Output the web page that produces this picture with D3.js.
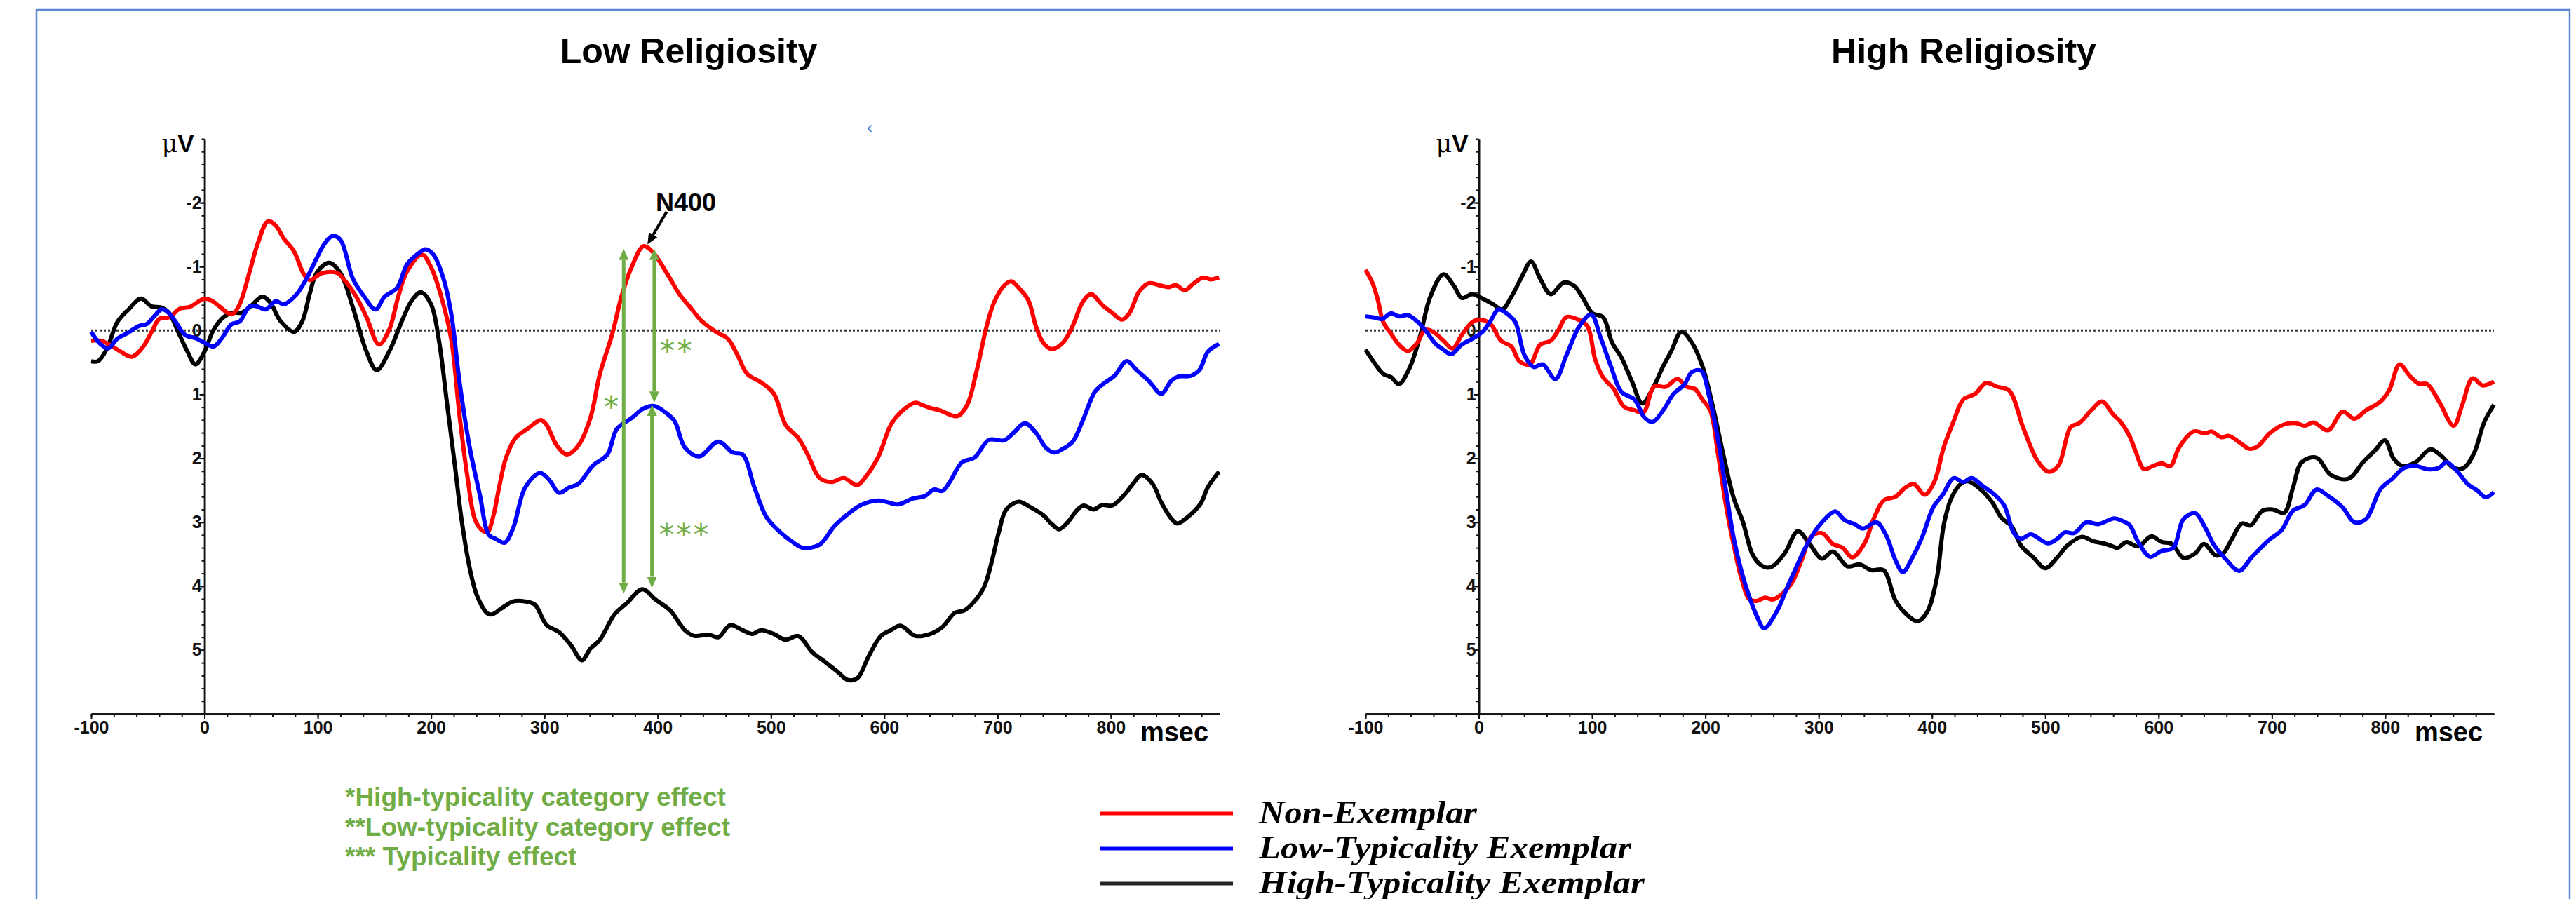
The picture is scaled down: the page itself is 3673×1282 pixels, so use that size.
<!DOCTYPE html>
<html>
<head>
<meta charset="utf-8">
<script src="https://cdnjs.cloudflare.com/ajax/libs/d3/7.8.5/d3.min.js"></script>
<style>
  html, body { margin: 0; padding: 0; background: #fff; }
  svg { display: block; }
</style>
</head>
<body>
<div id="chart"></div>
<script>
// shared axes: time in ms, amplitude in µV (negative up)
const timeDomain = [-100, 896];
const voltDomain = [-3, 6];
const timeTicks = [-100, 0, 100, 200, 300, 400, 500, 600, 700, 800];
const voltTicks = [-2, -1, 0, 1, 2, 3, 4, 5];

// Low religiosity, [ms, µV]
const lowNonExemplar = [
  [-100,0.16],[-91,0.16],[-83,0.23],[-74,0.33],[-64,0.41],[-54,0.25],[-46,0.0],[-40,-0.18],[-31,-0.21],[-22,-0.34],
  [-13,-0.37],[0,-0.5],[6,-0.47],[13,-0.38],[21,-0.27],[25,-0.26],[31,-0.41],[40,-0.93],[47,-1.36],[56,-1.71],
  [63,-1.64],[70,-1.44],[79,-1.24],[88,-0.87],[93,-0.79],[104,-0.9],[117,-0.9],[125,-0.76],[134,-0.53],[143,-0.21],
  [154,0.22],[163,-0.01],[171,-0.53],[179,-0.93],[192,-1.19],[200,-0.99],[209,-0.53],[218,0.16],[225,1.31],[232,2.28],
  [239,2.97],[246,3.14],[250,3.15],[255,2.9],[260,2.46],[266,2.0],[274.6,1.68],[285,1.54],[297,1.4],[302,1.48],
  [311,1.8],[320,1.94],[330,1.8],[340.6,1.37],[349,0.68],[360,0.05],[368,-0.53],[377,-0.99],[387.5,-1.32],[396,-1.22],
  [409,-0.87],[419.5,-0.56],[428,-0.38],[438.7,-0.15],[451.5,0.02],[462,0.13],[470.6,0.39],[479,0.68],[492,0.82],[502.6,0.99],
  [513,1.48],[524,1.68],[532.4,1.94],[543,2.31],[553.7,2.37],[564.4,2.31],[576,2.42],[584,2.28],[594.9,1.97],[605.7,1.48],
  [614.4,1.28],[627.4,1.13],[634,1.17],[640.4,1.21],[649.1,1.25],[664.3,1.34],[673,1.17],[681.7,0.62],[690.4,-0.07],[696.9,-0.44],
  [705.6,-0.7],[712,-0.77],[718.6,-0.67],[727.3,-0.47],[733.8,-0.07],[740.3,0.19],[747.9,0.29],[757.7,0.19],[766.3,-0.07],[775,-0.44],
  [782.6,-0.57],[792.4,-0.4],[801,-0.28],[809.8,-0.17],[816.3,-0.27],[825,-0.61],[833.6,-0.74],[844.5,-0.7],[851,-0.68],[857.5,-0.71],
  [865.1,-0.63],[872.7,-0.73],[881.4,-0.83],[888,-0.8],[895.5,-0.83]
];
const lowLowTypical = [
  [-100,0.02],[-93,0.19],[-85,0.28],[-77,0.13],[-67,0.03],[-58,-0.07],[-51,-0.1],[-45,-0.21],[-38,-0.33],[-33,-0.3],
  [-26,-0.15],[-17,0.07],[-8,0.12],[0,0.19],[8,0.25],[15,0.13],[24,-0.1],[31,-0.14],[40,-0.38],[46,-0.38],
  [54,-0.33],[63,-0.46],[70,-0.41],[81,-0.56],[90,-0.81],[99,-1.13],[106,-1.36],[113,-1.48],[120,-1.42],[131,-0.81],
  [141,-0.53],[151,-0.33],[159,-0.53],[170,-0.67],[179,-1.04],[189,-1.21],[195,-1.27],[202,-1.19],[211,-0.81],[218,-0.24],
  [225,0.79],[234,1.82],[243,2.57],[251,3.2],[257,3.26],[265,3.32],[272.5,3.09],[283,2.46],[296,2.23],[304.4,2.34],
  [313,2.54],[321.5,2.46],[330,2.4],[343,2.11],[355.6,1.94],[364,1.54],[377,1.37],[387.5,1.22],[397,1.18],[406.7,1.28],
  [415,1.42],[424,1.83],[436.5,1.97],[453.6,1.74],[466.4,1.91],[475,1.94],[485.5,2.46],[496,2.92],[509,3.17],[517.5,3.29],
  [528,3.4],[543,3.35],[556,3.06],[566,2.9],[579.7,2.73],[594.9,2.66],[612.2,2.72],[625.2,2.63],[636.1,2.59],[643.7,2.49],
  [651.3,2.51],[657.8,2.37],[668.7,2.06],[679.5,1.99],[692.5,1.71],[705.6,1.72],[714.2,1.6],[724,1.45],[733.8,1.6],[742.5,1.83],
  [750,1.91],[757.7,1.85],[766.3,1.74],[775,1.42],[785.9,0.96],[794.5,0.82],[803.2,0.71],[814,0.48],[822.8,0.62],[833.6,0.79],
  [844.5,0.99],[853.2,0.79],[859.7,0.72],[870.5,0.71],[878.1,0.62],[885.7,0.33],[895.5,0.21]
];
const lowHighTypical = [
  [-100,0.48],[-94,0.48],[-86,0.28],[-77,-0.13],[-67,-0.33],[-56,-0.5],[-47,-0.38],[-38,-0.36],[-31,-0.27],[-24,-0.01],
  [-15,0.33],[-8,0.53],[0,0.33],[8,-0.01],[17,-0.21],[25,-0.28],[33,-0.28],[42,-0.4],[51,-0.53],[58,-0.44],
  [67,-0.15],[79,0.02],[86,-0.13],[93,-0.58],[99,-0.9],[110,-1.06],[120,-0.9],[131,-0.36],[143,0.33],[152,0.62],
  [163,0.33],[175,-0.18],[183,-0.47],[191,-0.6],[200,-0.41],[207,0.16],[214,1.13],[221,2.11],[227,2.97],[234,3.71],
  [241,4.17],[250,4.43],[254.3,4.44],[262,4.35],[272.5,4.24],[283,4.24],[291.6,4.29],[302,4.61],[313,4.72],[323.6,4.93],
  [333.2,5.16],[340.6,4.98],[349,4.84],[362,4.44],[372.6,4.27],[386.5,4.05],[398,4.21],[411,4.38],[424,4.69],[432.3,4.78],
  [445,4.76],[453.6,4.8],[464,4.61],[475,4.69],[483.4,4.75],[491,4.69],[502.6,4.75],[513,4.84],[524,4.78],[536.7,5.04],
  [547.3,5.18],[558,5.33],[568,5.47],[576.4,5.44],[586.2,5.1],[597,4.78],[605.7,4.69],[614.4,4.62],[627.4,4.78],[640.4,4.75],
  [651.3,4.64],[662.2,4.42],[670.8,4.38],[679.5,4.24],[688.2,4.01],[694.7,3.63],[701.2,3.15],[707.7,2.8],[718.6,2.68],[729.4,2.77],
  [740.3,2.89],[747.9,3.03],[754.4,3.11],[762,3.0],[770.7,2.8],[776.1,2.74],[784.8,2.8],[792.4,2.73],[801,2.74],[812,2.57],
  [819.5,2.4],[827.1,2.26],[836.9,2.4],[844.5,2.69],[853.2,2.94],[858.6,3.02],[868.4,2.91],[879.2,2.71],[885.7,2.45],[895.5,2.21]
];

// High religiosity, [ms, µV]
const highNonExemplar = [
  [-100,-0.95],[-93.5,-0.73],[-89,-0.47],[-84.3,-0.13],[-77.4,0.05],[-70.5,0.22],[-62.4,0.32],[-54.3,0.19],[-47.4,-0.01],[-40.4,0.02],
  [-31.2,0.16],[-23.1,0.28],[-15,0.07],[-5.8,-0.13],[1.1,-0.17],[10.4,-0.1],[19.6,0.16],[28.8,0.25],[35.8,0.48],[45,0.53],
  [54.2,0.22],[63.5,0.16],[70.4,-0.01],[77.3,-0.21],[86.6,-0.18],[95.8,-0.07],[102.7,0.45],[109.6,0.73],[118.9,0.91],[128.1,1.19],
  [137.4,1.25],[145.4,1.28],[154.7,0.88],[165,0.88],[175.4,0.76],[183.5,0.88],[190.5,0.91],[197.4,1.08],[204.3,1.25],[211.2,1.94],
  [218.2,2.74],[225.1,3.37],[232,3.89],[239,4.21],[245.9,4.23],[252.8,4.18],[259.2,4.21],[267.8,4.12],[276.3,3.95],[284.8,3.6],
  [293.3,3.23],[302.9,3.17],[312.5,3.34],[321,3.4],[329.6,3.55],[340.2,3.34],[348.7,2.94],[357.3,2.66],[367.9,2.6],[376.4,2.46],
  [383.9,2.4],[393.5,2.57],[402,2.37],[410.5,1.82],[419.1,1.42],[427.6,1.08],[438.2,0.99],[447.8,0.82],[457.4,0.88],[468.1,0.94],
  [480.9,1.54],[493.6,2.05],[503.2,2.21],[511.7,2.11],[522.4,1.51],[529.9,1.45],[540.5,1.25],[550.1,1.11],[559.7,1.31],[566,1.42],
  [574.3,1.65],[579.5,1.88],[587.2,2.17],[594.9,2.12],[602.7,2.08],[610.4,2.12],[618.1,1.83],[631,1.58],[641.3,1.61],[646.5,1.58],
  [655.5,1.67],[662,1.65],[672.2,1.76],[680,1.85],[687.7,1.81],[698,1.61],[710.9,1.47],[721.2,1.45],[729,1.49],[736.7,1.44],
  [749.6,1.56],[762.5,1.27],[772.8,1.38],[783,1.25],[796,1.11],[803.7,0.93],[812.7,0.53],[821.7,0.71],[829.5,0.83],[837.2,0.84],
  [847.5,1.11],[860.4,1.49],[868.1,1.16],[877.1,0.75],[886.2,0.86],[896,0.8]
];
const highLowTypical = [
  [-100,-0.22],[-91.2,-0.2],[-85.5,-0.18],[-77.4,-0.27],[-70.5,-0.22],[-62.4,-0.24],[-54.3,-0.14],[-46.2,0.02],[-38.1,0.21],[-31.2,0.3],
  [-24.3,0.37],[-15,0.22],[-5.8,0.13],[3.4,0.02],[10.4,-0.15],[17.3,-0.33],[26.5,-0.24],[32.3,-0.13],[40.4,0.39],[48.4,0.57],
  [56.5,0.53],[67.6,0.76],[77.3,0.39],[88.9,-0.07],[99.2,-0.25],[107.3,0.1],[116.6,0.56],[125.8,0.96],[137.4,1.08],[146.6,1.37],
  [153.5,1.43],[162.7,1.25],[172,0.99],[181.2,0.85],[188.1,0.65],[196.2,0.63],[203.2,1.02],[211.2,1.71],[218.2,2.51],[225.1,3.26],
  [232,3.78],[239,4.18],[245.9,4.49],[251.8,4.66],[263.5,4.38],[272,4.03],[280.6,3.69],[289.1,3.37],[297.6,3.12],[306.1,2.94],
  [314.6,2.83],[323.2,2.97],[331.7,3.03],[339.2,3.1],[350.9,3.0],[359.4,3.2],[367.9,3.6],[374.3,3.78],[382.8,3.55],[391.4,3.23],
  [401,2.77],[409.5,2.57],[419.1,2.31],[427.6,2.37],[435,2.31],[444.6,2.43],[455.3,2.57],[463.8,2.74],[472.3,3.17],[478.7,3.26],
  [487.2,3.19],[502.2,3.33],[510.7,3.26],[517,3.16],[525.6,3.17],[536.3,3.0],[546.9,3.03],[560.8,2.94],[568,2.98],[574.3,3.04],
  [582,3.31],[592.4,3.54],[602.7,3.45],[613,3.4],[622,2.95],[632.3,2.86],[641.3,3.09],[649,3.36],[659.4,3.58],[671,3.76],
  [682.6,3.54],[698,3.27],[708.3,3.13],[718.6,2.82],[729,2.73],[739.3,2.49],[749.6,2.59],[762.5,2.77],[772.8,3.0],[783,2.95],
  [796,2.48],[806.3,2.32],[816.6,2.15],[826.9,2.12],[837.2,2.17],[847.5,2.15],[854,2.06],[862.9,2.19],[873.3,2.41],[881,2.5],
  [888.7,2.61],[896,2.53]
];
const highHighTypical = [
  [-100,0.3],[-91.2,0.53],[-84.3,0.68],[-77.4,0.73],[-70.5,0.84],[-61.2,0.59],[-52,0.1],[-42.8,-0.53],[-31.2,-0.88],[-22,-0.7],
  [-15,-0.51],[-5.8,-0.57],[3.4,-0.5],[12.7,-0.41],[20.7,-0.33],[28.8,-0.53],[38,-0.84],[46.1,-1.08],[54.2,-0.81],[63.5,-0.57],
  [75,-0.75],[84.2,-0.7],[91.2,-0.53],[100.4,-0.27],[109.6,-0.21],[117.7,0.19],[125.8,0.42],[135,0.79],[144.3,1.14],[153.5,0.91],
  [162.7,0.56],[169.7,0.33],[178.9,0.02],[188.1,0.19],[197.4,0.56],[206.6,1.19],[215.8,1.94],[225.1,2.63],[233.2,3.0],[241.2,3.49],
  [248.2,3.66],[254,3.71],[259.2,3.69],[269.9,3.49],[281.6,3.14],[291.2,3.32],[302.9,3.57],[312.5,3.46],[325.3,3.69],[336,3.66],
  [346.6,3.75],[357.3,3.75],[367.9,4.23],[378.6,4.46],[387.1,4.55],[395.6,4.41],[404.1,3.89],[410.5,3.03],[416.9,2.63],[425.4,2.4],
  [431.8,2.36],[442.5,2.48],[453.2,2.69],[461.7,2.94],[470.2,3.06],[478.7,3.37],[489.4,3.55],[500,3.72],[510.7,3.55],[519.2,3.37],
  [532,3.23],[542.6,3.3],[551.2,3.33],[559.7,3.38],[564,3.4],[571.7,3.31],[582,3.38],[593.6,3.22],[602.7,3.31],[611.7,3.34],
  [622,3.56],[632.3,3.49],[640,3.34],[650.3,3.52],[656.8,3.49],[664.5,3.27],[673.5,3.02],[681.3,3.05],[691.6,2.82],[700.6,2.8],
  [710.9,2.85],[718.6,2.46],[726.4,2.06],[739.3,1.99],[752.1,2.26],[767.6,2.32],[780.5,2.06],[790.8,1.88],[799.8,1.72],[807.6,2.01],
  [815.3,2.12],[826.9,2.06],[839.8,1.86],[850.1,1.97],[860.4,2.15],[869.4,2.15],[878.4,1.92],[887.5,1.43],[896,1.16]
];

const seriesLabels = ['Non-Exemplar', 'Low-Typicality Exemplar', 'High-Typicality Exemplar'];
const seriesColors = ['#ff0000', '#0000ff', '#000000'];

// green effect arrows in the low religiosity panel: [ms, from µV, to µV]
const effectArrows = [[370, -1.28, 4.12], [397, -1.28, 1.13], [395, 1.16, 4.03]];
const effectMarks = [['*', 360, 1.08], ['**', 417, 0.21], ['***', 424, 3.08]];
const footnotes = ['*High-typicality category effect', '**Low-typicality category effect', '*** Typicality effect'];

const width = 3673;
const height = 1282;
const plotTop = 198;
const plotBottom = 1018;
const green = '#70ad47';
const sans = "'Liberation Sans', Arial, sans-serif";

const svg = d3.select('#chart').append('svg')
    .attr('width', width)
    .attr('height', height)
    .style('font-family', sans);

svg.append('rect')
    .attr('width', width).attr('height', height)
    .attr('fill', '#fff');

// blue frame, bottom edge falls outside the picture
svg.append('rect')
    .attr('x', 52).attr('y', 14)
    .attr('width', 3612).attr('height', 1320)
    .attr('fill', 'none')
    .attr('stroke', '#5b87d4')
    .attr('stroke-width', 2.5);

const defs = svg.append('defs');
const addHead = (id, color, len, wide) => {
    defs.append('marker')
        .attr('id', id)
        .attr('viewBox', '0 0 10 10')
        .attr('preserveAspectRatio', 'none')
        .attr('refX', 0).attr('refY', 5)
        .attr('markerUnits', 'userSpaceOnUse')
        .attr('markerWidth', len).attr('markerHeight', wide)
        .attr('orient', 'auto-start-reverse')
        .append('path')
        .attr('d', 'M0,0L10,5L0,10z')
        .attr('fill', color);
};
addHead('greenHead', green, 16, 14);
addHead('blackHead', '#000', 16, 14);

const drawPanel = (panel) => {
    const x = d3.scaleLinear().domain(timeDomain).range([panel.left, panel.right]);
    const y = d3.scaleLinear().domain(voltDomain).range([plotTop, plotBottom]);
    const g = svg.append('g');

    g.append('text')
        .attr('x', panel.titleX).attr('y', 90)
        .attr('text-anchor', 'middle')
        .attr('font-size', 50).attr('font-weight', 'bold')
        .text(panel.title);

    // time axis: minor ticks every 20 ms, labels every 100 ms
    const xg = g.append('g').attr('transform', `translate(0,${y(voltDomain[1])})`);
    xg.append('g')
        .call(d3.axisBottom(x).tickValues(d3.range(-100, 897, 20)).tickSize(4).tickSizeOuter(0).tickFormat(''));
    xg.append('g')
        .call(d3.axisBottom(x).tickValues(timeTicks).tickSize(7).tickSizeOuter(0).tickPadding(3).tickFormat(d => String(d)))
        .attr('font-size', 25).attr('font-family', sans).attr('font-weight', 'bold');

    // amplitude axis at 0 ms
    const yg = g.append('g').attr('transform', `translate(${x(0)},0)`);
    yg.append('g')
        .call(d3.axisLeft(y).tickValues(d3.range(-3, 6.01, 0.2)).tickSize(4).tickSizeOuter(0).tickFormat(''));
    yg.append('g')
        .call(d3.axisLeft(y).tickValues(voltTicks).tickSize(7).tickSizeOuter(0).tickPadding(-3).tickFormat(d => String(d)))
        .attr('font-size', 25).attr('font-family', sans).attr('font-weight', 'bold');

    g.selectAll('.domain').attr('stroke', '#111').attr('stroke-width', 2.5);
    g.selectAll('.tick line').attr('stroke', '#111').attr('stroke-width', 2);
    g.selectAll('.tick text').attr('fill', '#111');

    const uv = g.append('text')
        .attr('x', x(0) - 15).attr('y', 217)
        .attr('text-anchor', 'end')
        .attr('font-size', 35);
    uv.append('tspan').attr('font-family', "'DejaVu Serif', serif").text('μ');
    uv.append('tspan').attr('font-weight', 'bold').text('V');

    g.append('text')
        .attr('x', x(826)).attr('y', 1057)
        .attr('font-size', 38).attr('font-weight', 'bold')
        .text('msec');

    // dotted baseline
    g.append('line')
        .attr('x1', x(timeDomain[0])).attr('x2', x(timeDomain[1]))
        .attr('y1', y(0)).attr('y2', y(0))
        .attr('stroke', '#333')
        .attr('stroke-width', 3)
        .attr('stroke-dasharray', '3 3');

    const line = d3.line()
        .x(d => x(d[0]))
        .y(d => y(d[1]))
        .curve(d3.curveCatmullRom.alpha(0.5));

    // black first, then red, blue on top
    [2, 0, 1].forEach(i => {
        g.append('path')
            .datum(panel.series[i])
            .attr('d', line)
            .attr('fill', 'none')
            .attr('stroke', seriesColors[i])
            .attr('stroke-width', 6)
            .attr('stroke-linejoin', 'round');
    });

    if (!panel.annotate) return;

    const headLen = 16;
    effectArrows.forEach(([ms, from, to]) => {
        g.append('line')
            .attr('x1', x(ms)).attr('x2', x(ms))
            .attr('y1', y(from) + headLen).attr('y2', y(to) - headLen)
            .attr('stroke', green)
            .attr('stroke-width', 5)
            .attr('marker-start', 'url(#greenHead)')
            .attr('marker-end', 'url(#greenHead)');
    });

    effectMarks.forEach(([mark, ms, v]) => {
        g.append('text')
            .attr('x', x(ms)).attr('y', y(v) + 25)
            .attr('text-anchor', 'middle')
            .attr('font-family', "'DejaVu Sans', sans-serif")
            .attr('font-size', 43)
            .attr('letter-spacing', 3)
            .attr('fill', green)
            .text(mark);
    });

    g.append('text')
        .attr('x', x(425)).attr('y', 301)
        .attr('text-anchor', 'middle')
        .attr('font-size', 36).attr('font-weight', 'bold')
        .text('N400');

    g.append('line')
        .attr('x1', x(408)).attr('y1', y(-1.86))
        .attr('x2', x(396)).attr('y2', y(-1.5))
        .attr('stroke', '#000')
        .attr('stroke-width', 4)
        .attr('marker-end', 'url(#blackHead)');

    // stray blue mark from the original figure
    g.append('text')
        .attr('x', 1240).attr('y', 190)
        .attr('text-anchor', 'middle')
        .attr('font-size', 24)
        .attr('fill', '#3b6fd0')
        .text('‹');
};

drawPanel({ title: 'Low Religiosity', titleX: 982, left: 130, right: 1739, annotate: true,
    series: [lowNonExemplar, lowLowTypical, lowHighTypical] });
drawPanel({ title: 'High Religiosity', titleX: 2800, left: 1947, right: 3556, annotate: false,
    series: [highNonExemplar, highLowTypical, highHighTypical] });

// footnotes for the asterisks
svg.append('g')
    .selectAll('text')
    .data(footnotes)
    .join('text')
    .attr('x', 492)
    .attr('y', (d, i) => 1149 + i * 42.5)
    .attr('font-size', 37)
    .attr('font-weight', 'bold')
    .attr('fill', green)
    .text(d => d);

// legend
const legendWidths = [311, 531, 550];
const legend = svg.append('g')
    .selectAll('g')
    .data(seriesLabels)
    .join('g')
    .attr('transform', (d, i) => `translate(1569,${1160 + i * 50})`);

legend.append('line')
    .attr('x1', 0).attr('x2', 189)
    .attr('stroke', (d, i) => i === 2 ? '#222' : seriesColors[i])
    .attr('stroke-width', 5);

legend.append('text')
    .attr('x', 226).attr('y', 14)
    .attr('font-family', "'Liberation Serif', 'Times New Roman', serif")
    .attr('font-style', 'italic')
    .attr('font-weight', 'bold')
    .attr('font-size', 46)
    .attr('textLength', (d, i) => legendWidths[i])
    .attr('lengthAdjust', 'spacingAndGlyphs')
    .text(d => d);
</script>
</body>
</html>
